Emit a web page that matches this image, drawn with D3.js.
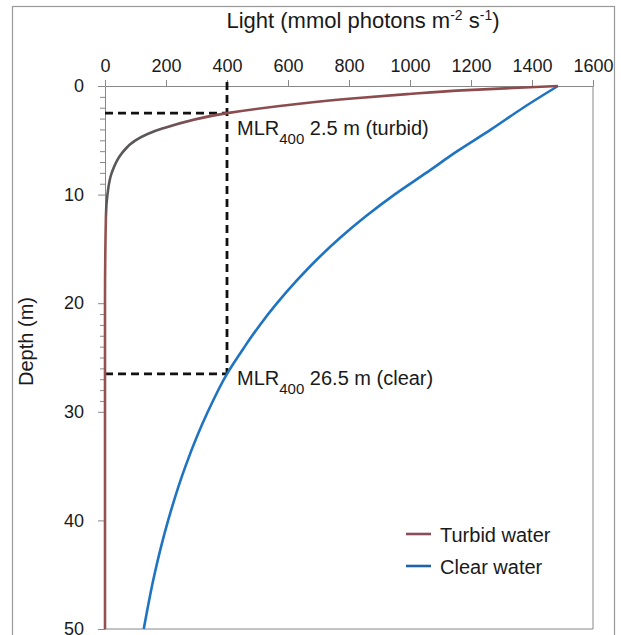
<!DOCTYPE html>
<html>
<head>
<meta charset="utf-8">
<script src="https://cdn.jsdelivr.net/npm/d3@7"></script>
<style>
  html, body { margin: 0; padding: 0; background: #fff; }
  svg text { font-family: "Liberation Sans", Arial, sans-serif; fill: #1a1a1a; }
</style>
</head>
<body>
<svg id="chart" width="621" height="635"></svg>
<script>
// ---- data ----
const xTicks = [0, 200, 400, 600, 800, 1000, 1200, 1400, 1600];
const yTicks = [0, 10, 20, 30, 40, 50];
const yMinorTicks = [1, 2, 3, 4, 5, 6, 7, 8, 9, 21, 22, 23, 24, 25, 26, 27, 28, 29];

const turbidDepth = [0, 0.4, 0.75, 1.15, 1.66, 2.5, 3.9, 5, 6.2, 8, 10, 12, 20, 30, 40, 50];
const turbidLight = [1485, 1170, 990, 810, 630, 400, 190, 100, 55, 22, 8, 3, 0, 0, 0, 0];

const clearDepth = [0, 2, 4, 6, 8, 10, 12, 14, 16, 18, 20, 22, 24, 26.5, 30, 35, 40, 45, 50];
const clearLight = [1485, 1371, 1266, 1155, 1053, 949, 855, 770, 694, 626, 564, 508, 458, 400, 337, 264, 207, 162, 127];

const seriesNames = ["Turbid water", "Clear water"];
const mlrLevel = 400;
const mlrDepths = [2.5, 26.5];
const mlrLabels = [" 2.5 m (turbid)", " 26.5 m (clear)"];

// ---- drawing ----
const svg = d3.select("#chart");

// outer frame
svg.append("rect").attr("x", 12.5).attr("y", 6.5).attr("width", 602).attr("height", 640)
  .attr("fill", "none").attr("stroke", "#999").attr("stroke-width", 1.2);

const x = d3.scaleLinear().domain([0, 1600]).range([105, 593]);
const y = d3.scaleLinear().domain([0, 50]).range([86, 629]);

// plot box (right & bottom)
svg.append("line").attr("x1", x(1600)).attr("x2", x(1600)).attr("y1", y(0)).attr("y2", y(50))
  .attr("stroke", "#888").attr("stroke-width", 1);
svg.append("line").attr("x1", x(0)).attr("x2", x(1600)).attr("y1", y(50)).attr("y2", y(50))
  .attr("stroke", "#888").attr("stroke-width", 1);

// top axis
const gx = svg.append("g").attr("transform", `translate(0,${y(0)})`)
  .call(d3.axisTop(x).tickValues(xTicks).tickFormat(d3.format("d"))
    .tickSize(6).tickPadding(8).tickSizeOuter(0));
gx.selectAll("text").style("font-size", "18px").attr("fill", "#1a1a1a");
gx.select(".domain").attr("stroke", "#888");
gx.selectAll(".tick line").attr("stroke", "#888");

// left axis
const gy = svg.append("g").attr("transform", `translate(${x(0)},0)`)
  .call(d3.axisLeft(y).tickValues(yTicks).tickFormat(d3.format("d"))
    .tickSize(7).tickPadding(14).tickSizeOuter(0));
gy.selectAll("text").style("font-size", "18px").attr("fill", "#1a1a1a");
gy.select(".domain").attr("stroke", "#888");
gy.selectAll(".tick line").attr("stroke", "#888");

const gym = svg.append("g").attr("transform", `translate(${x(0)},0)`)
  .call(d3.axisLeft(y).tickValues(yMinorTicks).tickSize(5).tickFormat(""));
gym.select(".domain").remove();
gym.selectAll(".tick line").attr("stroke", "#888");

// axis titles
const title = svg.append("text").attr("x", 363).attr("y", 28).attr("text-anchor", "middle")
  .style("font-size", "22px");
title.append("tspan").text("Light (mmol photons m");
title.append("tspan").text("-2").attr("dy", -8).style("font-size", "14px");
title.append("tspan").text(" s").attr("dy", 8);
title.append("tspan").text("-1").attr("dy", -8).style("font-size", "14px");
title.append("tspan").text(")").attr("dy", 8);

svg.append("text").attr("transform", `translate(33,${(y(0) + y(50)) / 2 - 16}) rotate(-90)`)
  .attr("text-anchor", "middle").style("font-size", "20px").text("Depth (m)");

// dashed guide lines
const dash = svg.append("g").attr("stroke", "#111").attr("stroke-width", 2.8)
  .attr("stroke-dasharray", "8,5").attr("fill", "none");
dash.append("line").attr("x1", x(mlrLevel)).attr("x2", x(mlrLevel))
  .attr("y1", y(0) - 4).attr("y2", y(d3.max(mlrDepths)));
mlrDepths.forEach(d => {
  dash.append("line").attr("x1", x(0)).attr("x2", x(mlrLevel)).attr("y1", y(d)).attr("y2", y(d));
});

// turbid gradient (reddish near surface, greyish on the bend, brown below)
const defs = svg.append("defs");
const grad = defs.append("linearGradient").attr("id", "turbidGrad")
  .attr("gradientUnits", "userSpaceOnUse").attr("x1", 0).attr("x2", 0)
  .attr("y1", y(0)).attr("y2", y(50));
[[0, "#8e4a4c"], [2.8, "#8a4d50"], [4.2, "#5b5658"], [11.3, "#5b5658"], [12.3, "#93524f"], [50, "#93524f"]]
  .forEach(([d, c]) => grad.append("stop").attr("offset", d / 50).attr("stop-color", c));

const line = d3.line().x(d => x(d[0])).y(d => y(d[1])).curve(d3.curveMonotoneY);
const turbid = turbidDepth.map((d, i) => [turbidLight[i], d]);
const clear = clearDepth.map((d, i) => [clearLight[i], d]);

svg.append("path").datum(clear).attr("d", line).attr("fill", "none")
  .attr("stroke", "#1f74c2").attr("stroke-width", 2.6);
svg.append("path").datum(turbid).attr("d", line).attr("fill", "none")
  .attr("stroke", "url(#turbidGrad)").attr("stroke-width", 2.6);

// MLR annotations
const mlrOffsets = [22, 11];
mlrDepths.forEach((d, i) => {
  const t = svg.append("text").attr("x", x(mlrLevel) + 10).attr("y", y(d) + mlrOffsets[i])
    .style("font-size", "20px");
  t.append("tspan").text("MLR");
  t.append("tspan").text(String(mlrLevel)).attr("dy", 9).style("font-size", "15px");
  t.append("tspan").text(mlrLabels[i]).attr("dy", -9);
});

// legend
const legColors = ["#8a4d5a", "#2062aa"];
const leg = svg.append("g");
seriesNames.forEach((n, i) => {
  const yy = 534 + i * 32;
  leg.append("line").attr("x1", 406).attr("x2", 431).attr("y1", yy).attr("y2", yy)
    .attr("stroke", legColors[i]).attr("stroke-width", 2.6);
  leg.append("text").attr("x", 440).attr("y", yy + 8).style("font-size", "20px").text(n);
});
</script>
</body>
</html>
